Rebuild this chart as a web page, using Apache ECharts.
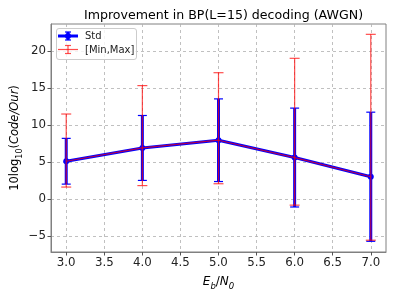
<!DOCTYPE html>
<html><head><meta charset="utf-8">
<script src="https://cdn.jsdelivr.net/npm/echarts@6/dist/echarts.min.js"></script>
<style>html,body{margin:0;padding:0;background:#fff}#c{width:395px;height:296px}</style>
</head><body><div id="c"></div>
<script>
var ebn0 = [3.0, 4.0, 5.0, 6.0, 7.0];
var meanVals = [5.1, 6.9, 7.95, 5.6, 3.0];
var stdVals = [3.1, 4.4, 5.6, 6.7, 8.75];
var minVals = [1.6, 1.8, 2.05, -0.85, -5.6];
var maxVals = [11.5, 15.35, 17.1, 19.05, 22.3];
var xTicks = [3.0, 3.5, 4.0, 4.5, 5.0, 5.5, 6.0, 6.5, 7.0];
var yTicks = [-5, 0, 5, 10, 15, 20];

var FONT = 'DejaVu Sans';
var meanData = ebn0.map(function(x,i){return [x, meanVals[i]];});
var stdData = ebn0.map(function(x,i){return [x, meanVals[i]-stdVals[i], meanVals[i]+stdVals[i]];});
var mmData = ebn0.map(function(x,i){return [x, minVals[i], maxVals[i]];});

function errRender(color, width, capHalf, opacity, capWidth){
  return function(params, api){
    var x = api.value(0);
    var lo = api.coord([x, api.value(1)]);
    var hi = api.coord([x, api.value(2)]);
    var st = {stroke: color, lineWidth: width, opacity: opacity};
    var cs = {stroke: color, lineWidth: capWidth, opacity: opacity};
    return {type:'group', children:[
      {type:'line', shape:{x1:lo[0],y1:lo[1],x2:hi[0],y2:hi[1]}, style:st},
      {type:'line', shape:{x1:lo[0]-capHalf,y1:lo[1],x2:lo[0]+capHalf,y2:lo[1]}, style:cs},
      {type:'line', shape:{x1:hi[0]-capHalf,y1:hi[1],x2:hi[0]+capHalf,y2:hi[1]}, style:cs}
    ]};
  };
}
var minus = function(s){return String(s).replace('-', '\u2212');};
var chart = echarts.init(document.getElementById('c'), null, {renderer:'canvas'});
chart.setOption({
  animation:false,
  backgroundColor:'#fff',
  title:{text:'Improvement in BP(L=15) decoding (AWGN)', left:218.5, textAlign:'center', top:4,
    textStyle:{fontFamily:FONT, fontSize:12.6, fontWeight:'normal', color:'#000'}},
  grid:{left:51, right:9, top:24, bottom:44, containLabel:false, outerBoundsMode:'none',
    show:true, borderColor:'#808080', borderWidth:1, backgroundColor:'transparent'},
  xAxis:{type:'value', min:2.8, max:7.2,
    name:'{i|E}{s|b}{n|/}{i|N}{s|0}', nameLocation:'middle', nameGap:22, nameMoveOverlap:false,
    nameTextStyle:{fontFamily:FONT, fontSize:12, color:'#000',
      rich:{i:{fontFamily:FONT,fontSize:12,fontStyle:'italic',lineHeight:15},
            n:{fontFamily:FONT,fontSize:12,lineHeight:15},
            s:{fontFamily:FONT,fontSize:8.5,fontStyle:'italic',lineHeight:8,verticalAlign:'bottom',padding:[0,0,-2,0]}}},
    axisLine:{show:true, onZero:false, lineStyle:{color:'#808080', width:1}},
    axisTick:{show:true, length:3.5, lineStyle:{color:'#555'}, customValues:xTicks},
    axisLabel:{customValues:xTicks, formatter:function(v){return v.toFixed(1);}, fontFamily:FONT, fontSize:11.8, color:'#222', margin:5},
    splitLine:{show:true, lineStyle:{color:'#b0b0b0', width:0.8, type:[3,3]}}
  },
  yAxis:{type:'value', min:-7.2, max:23.7,
    name:'{n|10log}{s|10}{n|(}{i|Code/Our}{n|)}', nameLocation:'middle', nameGap:29, nameRotate:90, nameMoveOverlap:false,
    nameTextStyle:{fontFamily:FONT, fontSize:11.5, color:'#000',
      rich:{i:{fontFamily:FONT,fontSize:11.5,fontStyle:'italic',lineHeight:14},
            n:{fontFamily:FONT,fontSize:11.5,lineHeight:14},
            s:{fontFamily:FONT,fontSize:8,lineHeight:8,verticalAlign:'bottom',padding:[0,0,-2,0]}}},
    axisLine:{show:true, onZero:false, lineStyle:{color:'#808080', width:1}},
    axisTick:{show:true, length:3.5, lineStyle:{color:'#555'}, customValues:yTicks},
    axisLabel:{customValues:yTicks, formatter:function(v){return minus(v);}, fontFamily:FONT, fontSize:11.8, color:'#222', margin:5},
    splitLine:{show:true, lineStyle:{color:'#b0b0b0', width:0.8, type:[3,3]}}
  },
  series:[
    {name:'Std', type:'line', data:meanData, z:2, symbol:'circle', symbolSize:6,
      itemStyle:{color:'#0000ff'}, lineStyle:{color:'#0000ff', width:3}},
    {name:'StdErr', type:'custom', data:stdData, z:2, renderItem:errRender('#0000ff', 3, 4.5, 1, 1.2), encode:{x:0, y:[1,2]}},
    {name:'MinMaxErr', type:'custom', data:mmData, z:3, renderItem:errRender('#ff0000', 1.2, 5, 0.7, 1.2), encode:{x:0, y:[1,2]}},
    {name:'[Min,Max]', type:'line', data:meanData, z:3, symbol:'none',
      lineStyle:{color:'#ff0000', width:1.2, opacity:0.7}}
  ],
  graphic:[
    {type:'rect', shape:{x:56.5, y:28.5, width:80, height:31, r:2.5}, style:{fill:'rgba(255,255,255,0.8)', stroke:'#cccccc', lineWidth:1}, z:100},
    {type:'line', shape:{x1:58, y1:36, x2:78, y2:36}, style:{stroke:'#0000ff', lineWidth:3}, z:101},
    {type:'line', shape:{x1:68, y1:32, x2:68, y2:40}, style:{stroke:'#0000ff', lineWidth:3}, z:101},
    {type:'line', shape:{x1:65, y1:32, x2:71, y2:32}, style:{stroke:'#0000ff', lineWidth:1.2}, z:101},
    {type:'line', shape:{x1:65, y1:40, x2:71, y2:40}, style:{stroke:'#0000ff', lineWidth:1.2}, z:101},
    {type:'circle', shape:{cx:68, cy:36, r:3}, style:{fill:'#0000ff'}, z:101},
    {type:'line', shape:{x1:58, y1:49.5, x2:78, y2:49.5}, style:{stroke:'#ff0000', lineWidth:1.2, opacity:0.7}, z:101},
    {type:'line', shape:{x1:68, y1:45.5, x2:68, y2:53.5}, style:{stroke:'#ff0000', lineWidth:1.2, opacity:0.7}, z:101},
    {type:'line', shape:{x1:65, y1:45.5, x2:71, y2:45.5}, style:{stroke:'#ff0000', lineWidth:1.2, opacity:0.7}, z:101},
    {type:'line', shape:{x1:65, y1:53.5, x2:71, y2:53.5}, style:{stroke:'#ff0000', lineWidth:1.2, opacity:0.7}, z:101},
    {type:'text', x:85, y:36, style:{text:'Std', fontFamily:FONT, fontSize:10, fill:'#222', verticalAlign:'middle'}, z:101},
    {type:'text', x:85, y:50, style:{text:'[Min,Max]', fontFamily:FONT, fontSize:10, fill:'#222', verticalAlign:'middle'}, z:101}
  ]
});
</script></body></html>
